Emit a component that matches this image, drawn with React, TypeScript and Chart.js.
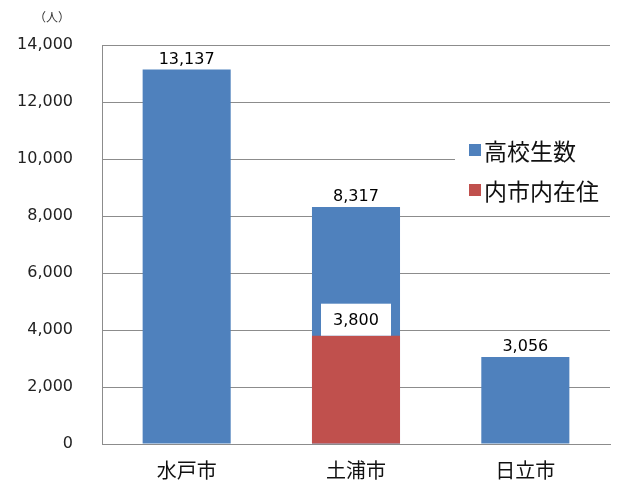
import React, { useEffect, useRef } from "react";
import { Chart, registerables } from "chart.js";

Chart.register(...registerables);

const categories = ["水戸市", "土浦市", "日立市"];
const studentCounts = [13137, 8317, 3056];
const localResidents = [null, 3800, null];
const seriesNames = ["高校生数", "内市内在住"];
const yTicks = [0, 2000, 4000, 6000, 8000, 10000, 12000, 14000];
const unitLabel = "（人）";

const BLUE = "#4F81BD";
const RED = "#C0504D";
const JP = "'Noto Sans CJK JP', 'DejaVu Sans', sans-serif";

const fmt = (v: number) => v.toLocaleString("en-US");

const overlayPlugin = {
  id: "overlay",
  afterDatasetsDraw(chart: any) {
    const ctx = chart.ctx;
    ctx.save();
    const blueMeta = chart.getDatasetMeta(1);
    ctx.font = "16px 'DejaVu Sans', sans-serif";
    ctx.fillStyle = "#000";
    ctx.textAlign = "center";
    ctx.textBaseline = "bottom";
    blueMeta.data.forEach((el: any, i: number) => {
      const v = studentCounts[i];
      if (v == null) return;
      ctx.fillText(fmt(v), el.x, el.y - 2);
    });
    const redMeta = chart.getDatasetMeta(0);
    redMeta.data.forEach((el: any, i: number) => {
      const v = localResidents[i];
      if (v == null) return;
      const w = 70, h = 32;
      ctx.fillStyle = "#fff";
      ctx.fillRect(el.x - w / 2, el.y - h, w, h);
      ctx.fillStyle = "#000";
      ctx.textBaseline = "middle";
      ctx.fillText(fmt(v), el.x, el.y - h / 2 + 1);
    });
    ctx.restore();
  },
  afterDraw(chart: any) {
    const ctx = chart.ctx;
    ctx.save();
    ctx.font = "12px " + JP;
    ctx.fillStyle = "#333";
    ctx.textAlign = "center";
    ctx.textBaseline = "middle";
    ctx.fillText(unitLabel, 52, 17);
    ctx.fillStyle = "#fff";
    ctx.fillRect(455, 127, 158, 82);
    const items = [
      { label: seriesNames[0], color: BLUE, y: 150 },
      { label: seriesNames[1], color: RED, y: 190 },
    ];
    ctx.font = "23px " + JP;
    ctx.textAlign = "left";
    items.forEach((it) => {
      ctx.fillStyle = it.color;
      ctx.fillRect(469, it.y - 6, 12, 12);
      ctx.fillStyle = "#111";
      ctx.fillText(it.label, 484, it.y + 1);
    });
    ctx.restore();
  },
};

export default function App() {
  const ref = useRef<HTMLCanvasElement>(null);
  useEffect(() => {
    const chart = new Chart(ref.current!, {
      type: "bar",
      data: {
        labels: categories,
        datasets: [
          {
            label: seriesNames[1],
            data: localResidents as any,
            backgroundColor: RED,
            order: 0,
          },
          {
            label: seriesNames[0],
            data: studentCounts,
            backgroundColor: BLUE,
            order: 1,
          },
        ],
      },
      options: {
        animation: false,
        responsive: false,
        maintainAspectRatio: false,
        layout: { padding: { left: 0, right: 23, top: 45, bottom: 0 } },
        plugins: {
          legend: { display: false },
          tooltip: { enabled: false },
        },
        datasets: {
          bar: { categoryPercentage: 0.52, barPercentage: 1 },
        },
        scales: {
          x: {
            stacked: true,
            grid: { display: false, drawTicks: false },
            border: { display: true, color: "#8c8c8c", width: 1 },
            ticks: {
              color: "#111",
              font: { family: JP, size: 20 },
              padding: 14,
            },
            afterFit: (s: any) => {
              s.height = 53;
            },
          },
          y: {
            stacked: false,
            min: 0,
            max: 14000,
            afterBuildTicks: (s: any) => {
              s.ticks = yTicks.map((v) => ({ value: v }));
            },
            grid: { color: "#8c8c8c", drawTicks: false, lineWidth: 1 },
            border: { display: true, color: "#8c8c8c", width: 1 },
            ticks: {
              color: "#222",
              font: { family: "'DejaVu Sans', sans-serif", size: 16 },
              padding: 29,
              callback: (v: any) => fmt(Number(v)),
            },
            afterFit: (s: any) => {
              s.width = 102;
            },
          },
        },
      },
      plugins: [overlayPlugin],
    });
    return () => chart.destroy();
  }, []);
  return (
    <div style={{ position: "fixed", left: 0, top: 0, width: 633, height: 497, background: "#fff" }}>
      <canvas ref={ref} width={633} height={497} style={{ width: 633, height: 497 }} />
    </div>
  );
}
